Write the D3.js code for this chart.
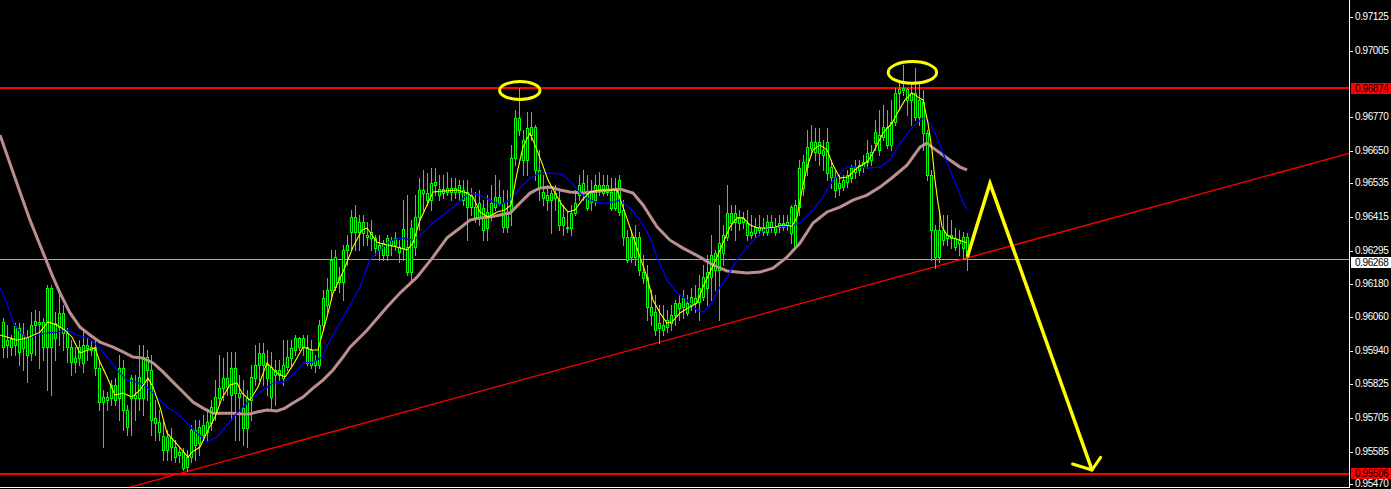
<!DOCTYPE html>
<html><head><meta charset="utf-8">
<script src="https://cdn.jsdelivr.net/npm/d3@7/dist/d3.min.js"></script>
<style>html,body{margin:0;padding:0;background:#000;overflow:hidden}</style>
</head><body><svg id="c" width="1391" height="489"></svg>
<script>
// ---- DATA (prices in points, x 1e-5) ----
const opensPts = [
96044,95962,95955,95962,96023,95952,95991,95934,96033,96044,
96044,95955,96165,95987,96026,96076,96005,95955,95902,95916,
95962,95952,95955,95955,95881,95778,95768,95775,95768,95775,
95881,95732,95775,95785,95775,95775,95920,95874,95704,95690,
95640,95590,95633,95601,95573,95583,95530,95566,95661,95615,
95643,95654,95686,95722,95775,95810,95846,95785,95881,95792,
95739,95668,95768,95846,95892,95934,95892,95778,95874,95856,
95846,95885,95916,95945,95987,95955,95955,95945,95892,95892,
96033,96104,96157,96168,96203,96186,96299,96363,96416,96363,
96398,96352,96342,96342,96317,96281,96281,96335,96317,96310,
96306,96310,96221,96310,96416,96501,96501,96476,96540,96515,
96501,96505,96519,96505,96505,96512,96505,96452,96452,96416,
96448,96377,96423,96452,96487,96466,96381,96434,96625,96767,
96689,96618,96735,96735,96583,96505,96476,96501,96483,96476,
96416,96377,96377,96430,96494,96537,96501,96469,96476,96530,
96501,96530,96448,96448,96547,96441,96345,96274,96345,96345,
96221,96203,96097,96080,96023,96033,96026,96041,96069,96111,
96097,96111,96104,96111,96115,96133,96165,96203,96289,96228,
96289,96345,96430,96398,96413,96398,96395,96363,96360,96381,
96363,96363,96398,96381,96381,96395,96388,96452,96310,96452,
96519,96593,96661,96682,96682,96636,96682,96593,96558,96519,
96522,96540,96554,96576,96583,96593,96611,96646,96678,96707,
96700,96735,96671,96753,96856,96873,96870,96831,96856,96831,
96824,96714,96565,96370,96274,96370,96352,96352,96342,96324,
96345,96345];
const highsPts = [
96058,96033,95998,96041,96041,96041,96016,96080,96087,96083,
96058,96175,96175,96080,96150,96104,96023,95980,95955,95980,
96016,95987,95980,95987,95909,95803,95796,95839,95846,95927,
95909,95750,95856,95856,95962,95962,95945,95927,95768,95732,
95697,95661,95668,95626,95597,95597,95590,95679,95697,95697,
95714,95725,95768,95839,95927,95916,95938,95938,95938,95856,
95839,95803,95892,95962,95970,95970,95945,95938,95909,95909,
95980,95980,95980,95998,95991,95998,95998,95980,95927,96051,
96157,96200,96299,96299,96239,96317,96352,96441,96459,96423,
96423,96398,96406,96352,96352,96335,96352,96345,96363,96335,
96476,96494,96406,96494,96554,96583,96572,96590,96590,96565,
96565,96576,96554,96554,96547,96547,96547,96519,96505,96512,
96476,96494,96530,96565,96547,96512,96512,96671,96795,96873,
96724,96788,96788,96742,96654,96565,96530,96512,96530,96512,
96459,96434,96459,96512,96565,96583,96565,96547,96565,96576,
96565,96565,96554,96554,96565,96476,96370,96370,96388,96363,
96282,96246,96157,96140,96104,96104,96087,96104,96122,96140,
96157,96140,96165,96175,96211,96246,96281,96352,96299,96459,
96388,96530,96459,96459,96441,96434,96441,96423,96413,96423,
96413,96423,96423,96413,96423,96423,96423,96459,96476,96618,
96636,96724,96742,96731,96731,96689,96731,96618,96583,96565,
96565,96583,96600,96618,96618,96636,96689,96671,96760,96795,
96813,96795,96831,96873,96902,96955,96873,96884,96944,96891,
96866,96724,96583,96388,96441,96423,96423,96406,96377,96370,
96363,96359];
const lowsPts = [
95920,95920,95927,95927,95892,95874,95831,95909,95927,95881,
95909,95803,95785,95909,95962,95945,95902,95856,95867,95892,
95867,95909,95927,95856,95732,95601,95732,95750,95750,95697,
95661,95643,95643,95697,95732,95714,95768,95643,95626,95626,
95555,95555,95555,95548,95548,95520,95516,95548,95555,95573,
95626,95626,95661,95697,95750,95768,95785,95697,95626,95626,
95608,95601,95697,95821,95839,95821,95785,95732,95750,95839,
95821,95874,95892,95927,95945,95927,95892,95881,95867,95881,
96016,96080,96122,96157,96150,96122,96246,96299,96299,96299,
96317,96317,96299,96281,96264,96264,96264,96281,96299,96257,
96264,96211,96186,96281,96370,96441,96459,96441,96494,96476,
96483,96494,96476,96483,96476,96459,96335,96423,96398,96388,
96335,96335,96406,96441,96459,96363,96363,96388,96600,96707,
96565,96565,96689,96547,96476,96459,96441,96360,96441,96370,
96352,96363,96352,96423,96476,96476,96441,96441,96459,96494,
96494,96494,96441,96441,96423,96317,96257,96257,96246,96211,
96182,96051,96033,95998,95970,95998,96008,96016,96033,96051,
96058,96069,96087,96080,96051,96122,96104,96122,96157,96051,
96246,96335,96370,96335,96370,96377,96335,96342,96342,96352,
96352,96352,96363,96352,96363,96370,96370,96324,96306,96423,
96494,96565,96636,96618,96600,96583,96547,96519,96487,96494,
96512,96522,96540,96554,96565,96576,96590,96600,96654,96636,
96689,96661,96654,96742,96795,96848,96778,96742,96760,96742,
96654,96547,96264,96235,96257,96317,96317,96306,96299,96281,
96271,96228];
const closesPts = [
95955,95980,95984,96030,95938,95998,95927,96033,96048,96037,
95955,96165,95955,96041,96076,96005,95955,95902,95916,95955,
95899,95962,95945,95881,95761,95761,95778,95821,95821,95881,
95732,95672,95846,95775,95849,95920,95874,95697,95686,95654,
95590,95636,95601,95566,95583,95527,95566,95661,95608,95672,
95679,95690,95743,95778,95810,95846,95814,95881,95792,95778,
95668,95775,95849,95892,95934,95892,95846,95885,95856,95874,
95892,95920,95952,95987,95955,95987,95899,95892,95909,96033,
96129,96157,96264,96274,96186,96299,96317,96416,96363,96398,
96360,96345,96363,96306,96299,96324,96342,96317,96342,96292,
96374,96221,96377,96416,96512,96512,96476,96537,96530,96494,
96515,96519,96505,96519,96530,96476,96452,96494,96416,96466,
96370,96434,96466,96487,96466,96381,96434,96625,96767,96724,
96618,96731,96707,96583,96522,96483,96494,96476,96501,96388,
96388,96381,96430,96466,96530,96505,96448,96501,96530,96512,
96530,96505,96505,96519,96434,96345,96264,96345,96274,96228,
96200,96097,96069,96016,96041,96016,96051,96069,96111,96094,
96129,96076,96133,96129,96165,96203,96221,96281,96228,96324,
96352,96430,96395,96430,96395,96413,96352,96352,96381,96370,
96377,96398,96381,96363,96395,96381,96398,96360,96459,96590,
96611,96664,96682,96646,96643,96654,96572,96558,96512,96537,
96547,96565,96590,96593,96600,96611,96643,96618,96717,96654,
96735,96671,96753,96856,96870,96866,96831,96856,96771,96771,
96714,96565,96370,96274,96370,96335,96342,96342,96310,96335,
96306,96274];

// moving averages: [bar index, price points]
const maFast = [[-0.75,95998],[3.5,95980],[6,95987],[9.25,96008],[11.25,96044],[13.5,96033],[15.5,96015],[17.25,95991],[19.25,95934],[21.25,95945],[23,95952],[24.25,95902],[26,95849],[28,95785],[30,95792],[32.25,95778],[34.25,95803],[36.25,95845],[37.5,95814],[39.25,95743],[41,95650],[43,95619],[44.75,95590],[46.25,95565],[47.25,95583],[49.25,95601],[51.25,95661],[53,95707],[54.75,95775],[56.75,95821],[58.5,95828],[59.75,95792],[61.75,95767],[63.75,95814],[66,95899],[68.5,95863],[70.5,95849],[72.5,95892],[75,95955],[77.25,95945],[78.75,95945],[81,96062],[82.5,96147],[85,96221],[87.5,96310],[89.75,96370],[91,96377],[93.5,96327],[96,96317],[98.5,96310],[101,96299],[102.5,96324],[104.25,96405],[106.25,96466],[107.5,96505],[110,96508],[113.5,96512],[116,96501],[117.5,96487],[119.25,96434],[121.25,96416],[123.5,96434],[125.5,96441],[127,96459],[128.5,96572],[130,96664],[131.75,96714],[133,96671],[134.75,96607],[136.25,96547],[138,96501],[139.75,96459],[141.25,96434],[143,96441],[144.75,96476],[146.75,96505],[149.25,96512],[153.5,96512],[155,96451],[157.25,96359],[159.25,96274],[161,96203],[162.5,96122],[164.25,96076],[166,96040],[167.25,96044],[169.25,96076],[171.25,96094],[173.5,96111],[175,96168],[176.75,96221],[178.5,96274],[180,96324],[181.75,96381],[183.5,96413],[185,96413],[186.75,96388],[188.75,96377],[191,96377],[193,96381],[195,96388],[197.25,96384],[198.5,96416],[199.75,96512],[201,96593],[202.5,96654],[204.25,96671],[206,96654],[207.5,96600],[209.25,96554],[211.25,96558],[213.5,96590],[216,96611],[217.5,96643],[220,96714],[222.25,96749],[223.75,96788],[225.5,96831],[227.25,96856],[228.75,96841],[230,96831],[231.25,96749],[232.25,96653],[233,96547],[233.75,96466],[234.75,96381],[236,96352],[237.5,96342],[239.25,96334],[241,96324]];
const maMid = [[-0.75,96168],[1,96111],[2.5,96044],[4.25,96008],[6,95987],[8.5,95998],[11,96005],[13.5,96008],[16,96015],[18.5,95998],[21.25,95987],[23.5,95962],[26,95920],[28.5,95874],[31,95838],[33.5,95831],[36,95814],[38.5,95778],[41,95743],[43.5,95721],[46,95686],[48.5,95650],[51,95619],[53.5,95636],[56,95679],[58.5,95721],[61,95757],[62.5,95778],[65,95803],[67.5,95828],[70,95831],[72.5,95856],[75,95899],[77.5,95902],[79.75,95920],[81.75,95980],[84.25,96040],[86.75,96104],[89.25,96168],[91.75,96264],[94.25,96299],[96.75,96331],[99.25,96342],[102.5,96334],[105,96359],[107.5,96395],[110,96423],[112.5,96451],[115,96483],[116.75,96501],[119.25,96494],[121.75,96476],[124.25,96459],[126.75,96476],[129.25,96519],[131.75,96554],[134.25,96572],[137.5,96572],[140,96565],[142.25,96537],[144.25,96501],[146.75,96476],[149.25,96466],[151.75,96466],[154.25,96476],[156.75,96448],[159.25,96405],[161.75,96345],[163.5,96274],[166,96193],[168.5,96147],[171,96122],[173.5,96086],[175,96079],[177.25,96111],[178.75,96157],[181,96203],[183.5,96264],[186,96310],[188.5,96345],[191,96377],[193.5,96381],[196,96384],[199.25,96395],[202.5,96441],[205,96487],[207.5,96547],[211,96593],[214.25,96593],[216.75,96590],[219.25,96593],[221.75,96618],[224.25,96678],[226.75,96724],[228.75,96753],[230.5,96767],[231.75,96749],[233.5,96700],[235,96643],[236.75,96583],[238.5,96522],[240,96469],[241,96444]];
const maSlow = [[-0.75,96707],[3,96554],[6.75,96405],[9.75,96299],[12.5,96203],[14.25,96147],[16.75,96076],[19.25,96026],[21.75,95998],[24.25,95973],[27.5,95955],[30,95938],[32.5,95920],[35,95916],[37.5,95899],[40,95867],[42.5,95831],[45,95796],[47.5,95760],[50,95739],[52.5,95721],[55,95721],[57.5,95721],[60,95718],[61.75,95718],[63.5,95725],[66,95732],[68.5,95729],[70.5,95739],[72.5,95757],[75,95778],[77.5,95810],[80,95838],[82.5,95874],[85,95920],[86.75,95955],[91,96015],[96,96097],[99.25,96147],[103.5,96203],[107.5,96274],[111,96342],[114.25,96377],[116.75,96405],[119.25,96413],[121.75,96416],[124.25,96423],[126.75,96430],[129.25,96466],[131.75,96501],[134.25,96519],[136.75,96522],[139.25,96512],[141.75,96505],[145,96501],[149.25,96508],[154.25,96515],[157.5,96501],[160,96459],[163.5,96381],[166.75,96334],[170,96306],[174.25,96274],[177.5,96246],[181,96225],[186,96218],[189.25,96221],[192.5,96235],[196,96274],[199.25,96324],[202.5,96395],[206,96434],[209.25,96451],[212.5,96476],[216,96494],[219.25,96522],[222.5,96558],[226,96600],[229.25,96664],[231,96678],[232.5,96661],[236,96625],[239.25,96593],[241,96583]];

// price levels and axis labels
const axisTicks = [0.97125,0.97005,0.96770,0.96650,0.96535,0.96415,0.96295,0.96180,0.96060,0.95940,0.95825,0.95705,0.95585,0.95470];
const redLevels = [0.96874, 0.95506];
const bidLevel = 0.96268;
// trend line anchors [bar, price]
const trendAnchors = [[46, 0.95514],[241, 0.96271]];
// annotations [bar, price]
const ellipseCenters = [[129.2, 0.968645],[227.35, 0.969285]];
const ellipseRadii = [[5.05, 0.000315],[6.05, 0.000385]];
const arrowPath = [[241.08, 0.96275],[246.75, 0.965356],[272.25, 0.955195]];
const arrowBarbs = [[267.4, 0.955408],[274.4, 0.955645]];

// ---- DRAW ----
const P = v => v / 1e5;
const bars = opensPts.map((o,i)=>({i, o:P(o), h:P(highsPts[i]), l:P(lowsPts[i]), c:P(closesPts[i])}));
const W = 1391, H = 489, plotW = 1349, plotH = 487;
const svg = d3.select('#c');
svg.append('rect').attr('width',W).attr('height',H).attr('fill','#000');
const x = d3.scaleLinear().domain([-0.75, 336.25]).range([0, 1348]);
const y = d3.scaleLinear().domain([0.954522, 0.971852]).range([489, 0]);

svg.append('defs').append('clipPath').attr('id','plot')
  .append('rect').attr('x',0).attr('y',0).attr('width',plotW).attr('height',plotH);
const g = svg.append('g').attr('clip-path','url(#plot)');

// horizontal levels
g.selectAll('line.red').data(redLevels).join('line')
  .attr('x1',0).attr('x2',plotW).attr('y1',d=>Math.round(y(d))).attr('y2',d=>Math.round(y(d)))
  .attr('stroke','#ff0000').attr('stroke-width',2).attr('shape-rendering','crispEdges');
g.append('line').attr('x1',0).attr('x2',plotW)
  .attr('y1',Math.round(y(bidLevel))+0.5).attr('y2',Math.round(y(bidLevel))+0.5)
  .attr('stroke','#a4a4a4').attr('stroke-width',1).attr('shape-rendering','crispEdges');

// trend line (ray across plot)
{
  const [a,b] = trendAnchors;
  const slope = (b[1]-a[1])/(b[0]-a[0]);
  const x0 = -1, x1 = 340;
  g.append('line')
    .attr('x1',x(x0)).attr('y1',y(a[1]+slope*(x0-a[0])))
    .attr('x2',x(x1)).attr('y2',y(a[1]+slope*(x1-a[0])))
    .attr('stroke','#ff0000').attr('stroke-width',1.3);
}

// candles
const cg = g.append('g');
bars.forEach(d=>{
  const xc = Math.round(x(d.i));
  cg.append('line').attr('x1',xc+0.5).attr('x2',xc+0.5)
    .attr('y1',Math.round(y(d.h))).attr('y2',Math.round(y(d.l))+1)
    .attr('stroke','#00ff00').attr('stroke-width',1).attr('shape-rendering','crispEdges');
  const top = Math.round(y(Math.max(d.o,d.c))), bot = Math.round(y(Math.min(d.o,d.c)));
  cg.append('rect').attr('x',xc-0.5).attr('y',top+0.5).attr('width',2).attr('height',Math.max(0,bot-top))
    .attr('fill','#000').attr('stroke','#00ff00').attr('stroke-width',1).attr('shape-rendering','crispEdges');
});

// moving averages
const line = d3.line().x(d=>x(d[0])).y(d=>y(P(d[1])));
g.append('path').attr('d',line(maSlow)).attr('fill','none').attr('stroke','#bc8f8f').attr('stroke-width',3);
g.append('path').attr('d',line(maMid)).attr('fill','none').attr('stroke','#0000ff').attr('stroke-width',1.2);
g.append('path').attr('d',line(maFast)).attr('fill','none').attr('stroke','#ffff00').attr('stroke-width',1.1);

// ellipses
g.selectAll('ellipse').data(ellipseCenters).join('ellipse')
  .attr('cx',d=>x(d[0])).attr('cy',d=>y(d[1]))
  .attr('rx',(d,i)=>x(d[0]+ellipseRadii[i][0])-x(d[0]))
  .attr('ry',(d,i)=>y(d[1]-ellipseRadii[i][1])-y(d[1]))
  .attr('fill','none').attr('stroke','#ffff00').attr('stroke-width',3);

// arrow
g.append('path').attr('d',d3.line().x(d=>x(d[0])).y(d=>y(d[1]))(arrowPath))
  .attr('fill','none').attr('stroke','#ffff00').attr('stroke-width',3.5).attr('stroke-linejoin','miter');
const tip = arrowPath[arrowPath.length-1];
g.selectAll('line.barb').data(arrowBarbs).join('line')
  .attr('x1',d=>x(d[0])).attr('y1',d=>y(d[1])).attr('x2',x(tip[0])).attr('y2',y(tip[1]))
  .attr('stroke','#ffff00').attr('stroke-width',3).attr('stroke-linecap','round');

// frame / axis
svg.append('line').attr('x1',plotW+0.5).attr('x2',plotW+0.5).attr('y1',0).attr('y2',plotH+1)
  .attr('stroke','#fff').attr('stroke-width',1).attr('shape-rendering','crispEdges');
svg.append('line').attr('x1',0).attr('x2',plotW+1).attr('y1',plotH+0.5).attr('y2',plotH+0.5)
  .attr('stroke','#fff').attr('stroke-width',1).attr('shape-rendering','crispEdges');

const font = '"Liberation Sans", Arial, sans-serif';
const ag = svg.append('g');
ag.selectAll('line').data(axisTicks).join('line')
  .attr('x1',plotW+1).attr('x2',plotW+4)
  .attr('y1',d=>Math.round(y(d))+0.5).attr('y2',d=>Math.round(y(d))+0.5)
  .attr('stroke','#fff').attr('shape-rendering','crispEdges');
ag.selectAll('text').data(axisTicks).join('text')
  .attr('x',plotW+6).attr('y',d=>y(d)).attr('dy','0.3em')
  .attr('fill','#fff').attr('font-family',font).attr('font-size',10).attr('letter-spacing',-0.4)
  .text(d=>d.toFixed(5));

// price level labels (box offset so they sit just below neighbouring tick labels)
const tags = [
  {v:redLevels[0], bg:'#ff0000', off:-5},
  {v:redLevels[1], bg:'#ff0000', off:-6},
  {v:bidLevel, bg:'#ffffff', off:-2}
];
const tg = svg.append('g');
tags.forEach(t=>{
  const yy = Math.round(y(t.v));
  tg.append('rect').attr('x',plotW+2).attr('y',yy+t.off).attr('width',W-plotW-2).attr('height',11).attr('fill',t.bg);
  tg.append('text').attr('x',plotW+6).attr('y',yy+t.off+5.5).attr('dy','0.34em')
    .attr('fill','#000').attr('font-family',font).attr('font-size',10).attr('letter-spacing',-0.4)
    .text(t.v.toFixed(5));
});
</script></body></html>
